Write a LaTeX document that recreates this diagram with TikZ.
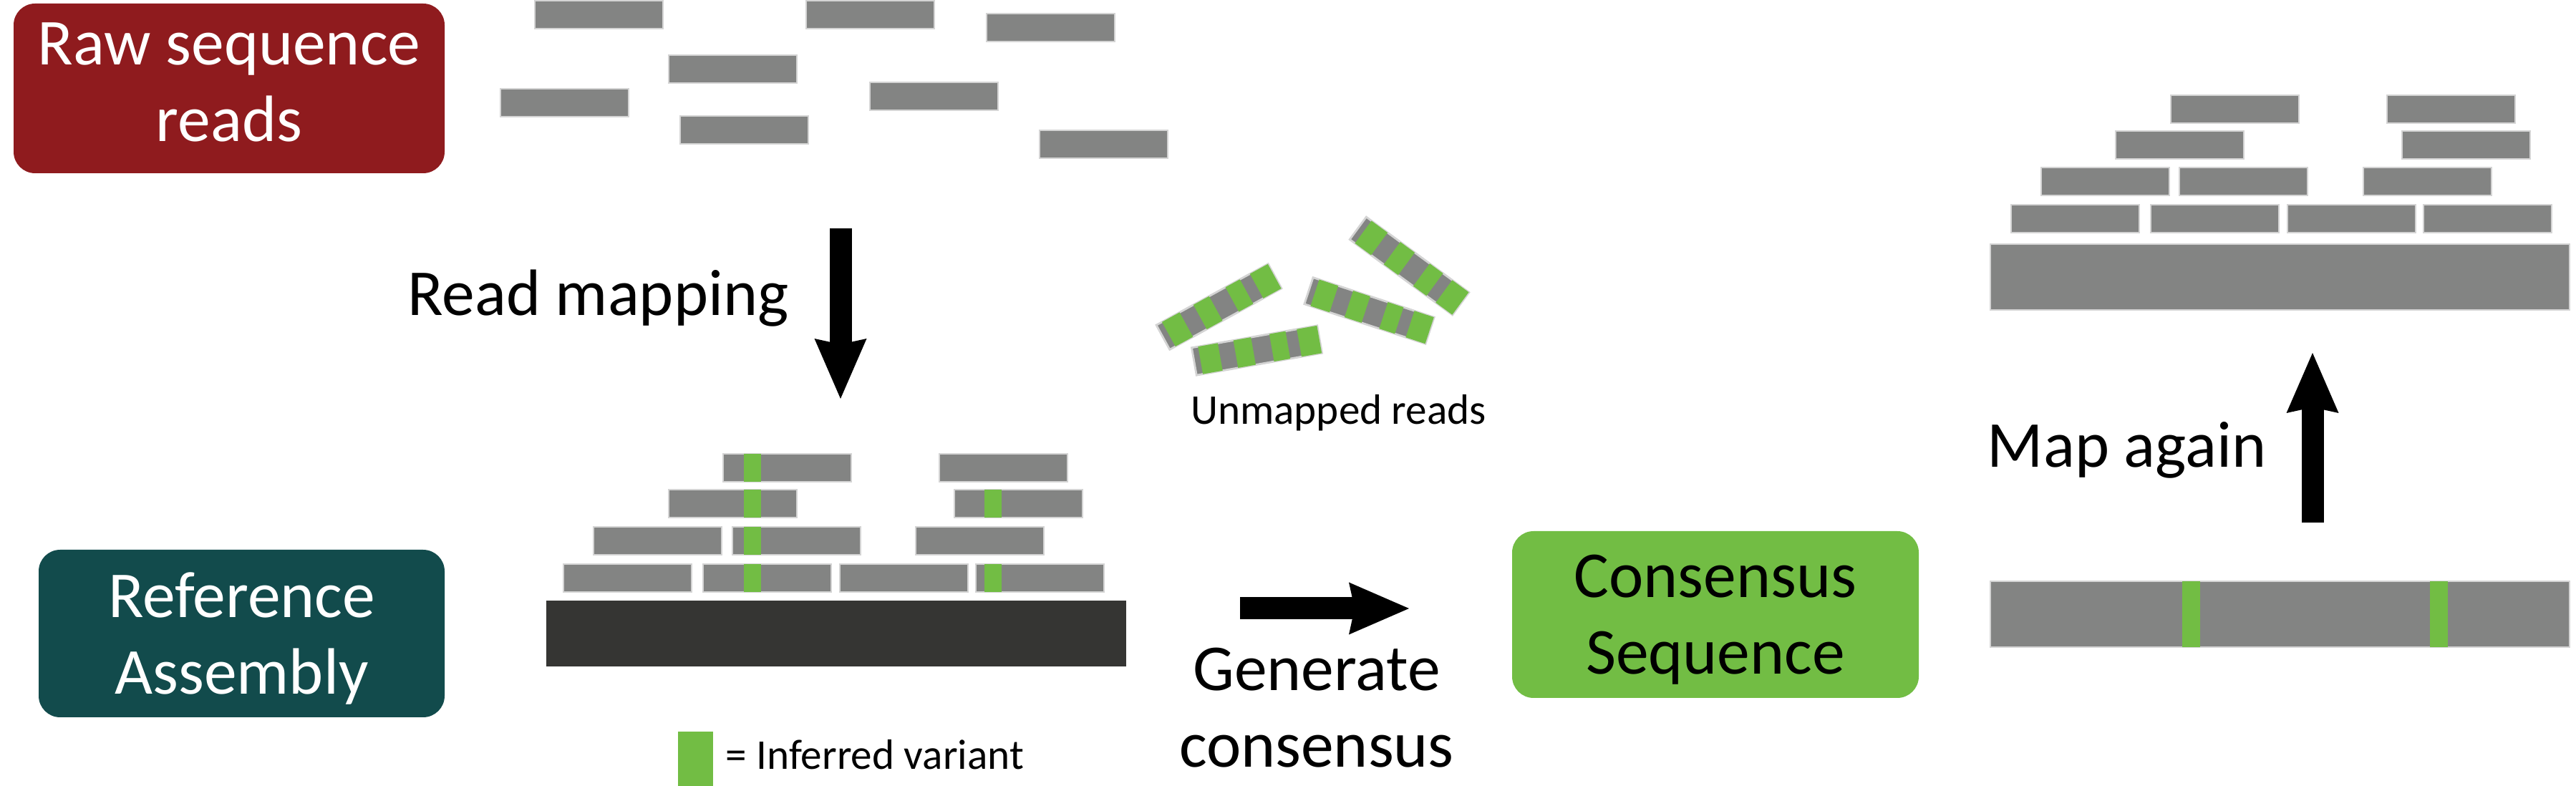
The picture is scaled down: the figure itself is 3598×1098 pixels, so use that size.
\documentclass[tikz,border=0pt]{standalone}
\usepackage{xcolor}
\usepackage{fontspec}
\setmainfont{Carlito}
\usepackage{tikz}
\usetikzlibrary{positioning,arrows.meta}

\definecolor{rawred}{RGB}{143,27,30}
\definecolor{refteal}{RGB}{18,75,76}
\definecolor{seqgreen}{RGB}{114,189,68}
\definecolor{readgray}{RGB}{131,132,131}
\definecolor{readedge}{RGB}{212,212,212}
\definecolor{refdark}{RGB}{53,53,51}

\newcommand{\biglabel}{\fontsize{22.9}{26.75}\selectfont}
\newcommand{\smalllabel}{\fontsize{14.8}{17}\selectfont}

\tikzset{
  readbox/.style={fill=readgray, draw=readedge, line width=0.7pt},
  variant/.style={fill=seqgreen, draw=none},
  stepbox/.style={rounded corners=7.5pt, inner sep=0pt, align=center, font=\biglabel, text depth=0pt},
  bigarrow/.style={line width=7.75pt, -{Stealth[length=21pt, width=18.25pt, inset=2pt, line width'=0pt]}}
}

% one read, given by its top left corner
\newcommand{\seqread}[2]{\draw[readbox] (#1,#2) rectangle +(179,39);}
% one variant stripe on a read
\newcommand{\snp}[2]{\fill[variant] (#1,#2) rectangle +(24,39);}
% one unmapped read, given by centre and angle
\newcommand{\unmapped}[3]{%
  \begin{scope}[shift={(#1,#2)}, rotate=#3]
    \draw[readbox] (-89,-19.5) rectangle (89,19.5);
    \fill[variant] (-80,-19.5) rectangle (-52,19.5);
    \fill[variant] (-30,-19.5) rectangle (-5,19.5);
    \fill[variant] (21,-19.5) rectangle (44,19.5);
    \fill[variant] (60,-19.5) rectangle (88.6,19.5);
  \end{scope}}

\begin{document}
\begin{tikzpicture}[x=0.25pt, y=-0.25pt]
  \useasboundingbox (0,0) rectangle (3598,1098);

  % raw reads
  \node[stepbox, fill=rawred, text=white, text depth=4.5pt, minimum width=150.5pt, minimum height=59.25pt] (raw) at (320,123.5) {Raw sequence\\reads};
  \seqread{747}{1} \seqread{1126}{1} \seqread{1378}{19} \seqread{934}{77}
  \seqread{699}{124} \seqread{1215}{115} \seqread{950}{162} \seqread{1452}{182}

  % read mapping
  \coordinate (mapTop) at (1174,319);
  \coordinate (mapTip) at (1174,557);
  \draw[bigarrow] (mapTop) -- (mapTip);
  \node[font=\biglabel, anchor=base] (mapLbl) at (835.5,441) {Read mapping};

  % reference assembly with mapped reads
  \node[stepbox, fill=refteal, text=white, minimum width=141.75pt, minimum height=58.5pt] (ref) at (337.5,885) {Reference\\Assembly};
  \fill[refdark] (763,839) rectangle (1573,931);
  \seqread{1010}{634} \seqread{1312}{634}
  \seqread{934}{684} \seqread{1333}{684}
  \seqread{829}{736} \seqread{1023}{736} \seqread{1279}{736}
  \seqread{787}{788} \seqread{982}{788} \seqread{1173}{788} \seqread{1363}{788}
  \snp{1039}{634} \snp{1039}{684} \snp{1039}{736} \snp{1039}{788}
  \snp{1375}{684} \snp{1375}{788}

  % legend
  \fill[variant] (947,1022) rectangle (996,1098);
  \node[font=\smalllabel, anchor=base west, inner sep=0pt] (legLbl) at (1013,1075) {= Inferred variant};

  % unmapped reads
  \unmapped{1702.5}{428.5}{28.7}
  \unmapped{1755.5}{489.5}{10}
  \unmapped{1912.5}{434}{-18.2}
  \unmapped{1968.5}{371.5}{-36.3}
  \node[font=\smalllabel, anchor=base] (unLbl) at (1869.5,593) {Unmapped reads};

  % generate consensus
  \coordinate (genTail) at (1732,850);
  \coordinate (genTip) at (1968,850);
  \draw[bigarrow] (genTail) -- (genTip);
  \node[font=\biglabel, align=center, text depth=0pt] (genLbl) at (1839,988.5) {Generate\\consensus};
  \node[stepbox, fill=seqgreen, text=black, minimum width=142pt, minimum height=58.25pt] (cons) at (2396,858.5) {Consensus\\Sequence};

  % consensus sequence
  \draw[readbox] (2780,812) rectangle (3589,904);
  \fill[variant] (3048,812) rectangle (3073,904);
  \fill[variant] (3394,812) rectangle (3419,904);

  % map again
  \coordinate (againTail) at (3230,730);
  \coordinate (againTip) at (3230,493);
  \draw[bigarrow] (againTail) -- (againTip);
  \node[font=\biglabel, anchor=base] (againLbl) at (2970.5,653) {Map again};

  % remapped reads
  \draw[readbox] (2780,341) rectangle (3589,433);
  \seqread{3032}{133} \seqread{3334}{133}
  \seqread{2955}{183} \seqread{3355}{183}
  \seqread{2851}{234} \seqread{3044}{234} \seqread{3301}{234}
  \seqread{2809}{286} \seqread{3004}{286} \seqread{3195}{286} \seqread{3385}{286}
\end{tikzpicture}
\end{document}
